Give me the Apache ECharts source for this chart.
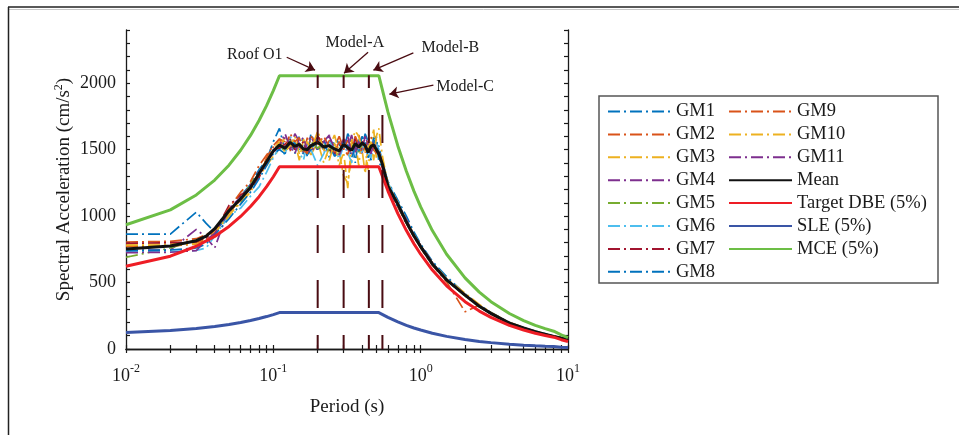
<!DOCTYPE html>
<html>
<head>
<meta charset="utf-8">
<script src="https://cdn.jsdelivr.net/npm/echarts@6/dist/echarts.min.js"></script>
<style>
html,body{margin:0;padding:0;background:#fff;}
#main{width:959px;height:435px;}
</style>
</head>
<body>
<div id="main"></div>
<script>
// periods (s) used for the ground motion spectra
var periods = [0.01,0.02,0.03,0.035,0.04,0.05,0.06,0.07,0.08,0.09,
	0.10,0.11,0.12,0.13,0.14,0.15,0.16,0.17,0.18,0.20,
	0.22,0.24,0.26,0.28,0.30,0.32,0.34,0.36,0.38,0.40,
	0.42,0.44,0.46,0.48,0.50,0.52,0.55,0.60,0.70,0.80,
	0.90,1.0,1.2,1.5,2.0,2.5,3.0,4.0,5.0,6.0,
	8.0,10];

var gm1 = [865,865,1030,945,880,1010,1150,1240,1350,1420,
	1560,1660,1490,1580,1470,1600,1560,1450,1620,1500,
	1580,1440,1600,1540,1490,1620,1560,1400,1590,1500,
	1620,1560,1420,1610,1480,1530,1400,1260,1120,1000,
	880,790,660,545,415,330,275,200,160,134,
	97,74];
var gm2 = [805,810,830,860,900,1030,1120,1240,1300,1440,
	1520,1580,1560,1490,1610,1530,1470,1590,1500,1620,
	1480,1570,1520,1600,1510,1460,1580,1500,1610,1530,
	1470,1590,1550,1500,1580,1450,1380,1210,1070,940,
	860,760,630,505,280,330,262,190,150,128,
	92,70];
var gm3 = [790,790,800,830,870,1010,1100,1180,1300,1380,
	1450,1500,1600,1520,1560,1420,1580,1510,1460,1560,
	1400,1520,1610,1480,1300,1250,1450,1560,1380,1600,
	1500,1350,1560,1650,1440,1500,1400,1240,1100,970,
	860,780,650,530,420,335,275,200,162,133,
	96,73];
var gm4 = [742,745,900,840,760,1060,1140,1200,1340,1400,
	1480,1520,1590,1500,1620,1560,1480,1540,1600,1490,
	1560,1610,1460,1500,1580,1520,1610,1480,1550,1470,
	1600,1540,1460,1560,1520,1480,1410,1230,1100,975,
	855,780,650,520,410,320,270,197,160,131,
	96,72];
var gm5 = [690,760,820,850,900,1050,1100,1250,1310,1400,
	1500,1540,1480,1570,1510,1550,1490,1520,1560,1510,
	1540,1490,1550,1470,1560,1500,1520,1560,1480,1540,
	1510,1490,1540,1500,1470,1460,1380,1220,1080,945,
	845,765,635,515,400,318,265,193,156,128,
	94,71];
var gm6 = [732,732,742,760,850,1000,1060,1150,1220,1330,
	1440,1520,1460,1600,1530,1480,1420,1540,1500,1380,
	1470,1560,1510,1430,1530,1480,1400,1570,1520,1480,
	1560,1500,1440,1520,1560,1500,1420,1250,1110,960,
	850,770,645,525,410,325,270,195,158,129,
	95,72];
var gm7 = [795,800,805,840,880,1080,1160,1200,1290,1420,
	1490,1510,1540,1580,1500,1520,1560,1480,1520,1600,
	1540,1500,1470,1520,1560,1500,1480,1590,1510,1560,
	1540,1480,1520,1500,1490,1460,1360,1210,1080,950,
	845,765,638,518,405,322,268,194,157,130,
	95,72];
var gm8 = [740,745,760,790,860,980,1090,1180,1280,1380,
	1470,1500,1470,1540,1550,1500,1470,1460,1500,1580,
	1500,1540,1450,1480,1560,1530,1440,1520,1490,1600,
	1560,1440,1500,1540,1600,1410,1350,1200,1070,960,
	850,775,645,525,410,320,265,185,157,130,
	95,72];
var gm9 = [770,775,790,820,890,1060,1180,1260,1380,1460,
	1530,1580,1500,1620,1560,1590,1500,1470,1600,1540,
	1600,1520,1480,1560,1500,1570,1520,1600,1540,1480,
	1520,1560,1600,1500,1470,1480,1420,1230,1090,950,
	850,770,640,520,410,325,270,196,158,130,
	95,72];
var gm10 = [780,780,790,810,880,1000,1120,1200,1330,1420,
	1500,1560,1480,1530,1600,1470,1520,1560,1490,1640,
	1500,1420,1560,1380,1480,1210,1560,1640,1600,1500,
	1320,1520,1560,1420,1600,1660,1450,1240,1100,960,
	850,770,645,525,410,325,272,196,160,132,
	97,74];
var gm11 = [725,728,740,820,870,1050,1120,1230,1310,1400,
	1500,1530,1620,1520,1470,1560,1590,1500,1480,1560,
	1520,1600,1510,1460,1540,1600,1470,1520,1560,1500,
	1600,1520,1470,1540,1500,1480,1390,1220,1090,955,
	850,770,640,520,405,322,268,195,158,130,
	95,72];
var mean = [752,775,815,850,905,1040,1130,1215,1320,1410,
	1490,1535,1510,1555,1525,1540,1505,1500,1530,1555,
	1520,1530,1505,1490,1540,1515,1495,1545,1520,1550,
	1530,1480,1525,1535,1500,1470,1390,1225,1090,955,
	850,770,640,520,405,322,268,195,158,130,
	95,72];

// design spectra
var codePeriods = [0.01,0.02,0.03,0.04,0.05,0.06,0.07,0.08,0.09,0.10,
	0.11,0.52,0.6,0.7,0.8,0.9,1.0,1.2,1.5,2,
	2.5,3,4,5,6,7,8,9,10];
var targetDBE = [623,698,773,847,922,997,1072,1146,1221,1296,
	1371,1371,1188,1019,891,792,713,594,475,356,
	285,238,178,143,119,102,89,70,57];
var sle = [125,140,155,169,184,199,214,229,244,259,
	274,274,238,204,178,158,143,119,95,71,
	57,48,36,29,24,20,18,14,11];
var mce = [935,1047,1159,1271,1383,1495,1607,1719,1831,1944,
	2056,2056,1782,1528,1337,1188,1069,891,713,535,
	428,356,267,214,178,153,134,106,86];

// fundamental periods of the models
var modelNames = ['Roof O1','Model-A','Model-B','Model-C'];
var modelPeriods = [0.2,0.3,0.445,0.55];
var modelTops = [2060,2060,2060,1950];

var yLabelValues = [0,500,1000,1500,2000];
var xLabelValues = [0.01,0.1,1,10];

var FONT = '"Liberation Serif","Times New Roman",serif';
var TXT = '#1a1a1a';
var MAROON = '#4a0c12';

function pairs(xs, ys){
	var out = [];
	for (var i = 0; i < xs.length; i++) {
		out.push([xs[i], ys[i]]);
	}
	return out;
}

var xTicks = [];
[0.01,0.1,1].forEach(function(d){
	for (var k = 1; k < 10; k++) { xTicks.push(+(k*d).toFixed(3)); }
});
xTicks.push(10);
var yTicks = [];
for (var v = 0; v <= 2400; v += 100) { yTicks.push(v); }

var gmColors = ['#0072BD','#D95319','#EDB120','#7E2F8E','#77AC30','#4DBEEE','#A2142F','#0072BD','#D95319','#EDB120','#7E2F8E'];
var gmData = [gm1,gm2,gm3,gm4,gm5,gm6,gm7,gm8,gm9,gm10,gm11];

var series = [];
for (var i = 0; i < gmData.length; i++) {
	series.push({
		name: 'GM' + (i+1), type: 'line', symbol: 'none', z: 2,
		data: pairs(periods, gmData[i]),
		itemStyle: {color: gmColors[i]},
		lineStyle: {color: gmColors[i], width: 1.7, type: [12,4,2,4]}
	});
}
function solid(name, xs, ys, color){
	return {
		name: name, type: 'line', symbol: 'none', z: 3,
		data: pairs(xs, ys),
		itemStyle: {color: color},
		lineStyle: {color: color, width: 3}
	};
}
series.push(solid('Mean', periods, mean, '#111111'));
series.push(solid('Target DBE (5%)', codePeriods, targetDBE, '#EE1D25'));
series.push(solid('SLE (5%)', codePeriods, sle, '#3A55A6'));
series.push(solid('MCE (5%)', codePeriods, mce, '#6CBE45'));

for (var j = 0; j < modelPeriods.length; j++) {
	series.push({
		name: modelNames[j], type: 'line', symbol: 'none', z: 5, silent: true,
		data: [[modelPeriods[j], 0], [modelPeriods[j], modelTops[j]]],
		lineStyle: {color: MAROON, width: 2, type: [28,27], dashOffset: 14}
	});
}

// arrows and their labels
series.push({
	name: 'notes', type: 'line', data: [], z: 6, silent: true,
	markLine: {
		silent: true, animation: false,
		symbol: ['none','arrow'], symbolSize: 9,
		label: {show: false},
		lineStyle: {color: MAROON, width: 1.3, type: 'solid'},
		data: [
			[{coord: [0.1233, 2195]}, {coord: [0.192, 2098]}],
			[{coord: [0.4395, 2233]}, {coord: [0.302, 2075]}],
			[{coord: [0.892, 2228]}, {coord: [0.4775, 2098]}],
			[{coord: [1.22, 1985]}, {coord: [0.613, 1917]}]
		]
	},
	markPoint: {
		silent: true, animation: false,
		symbol: 'circle', symbolSize: 0,
		label: {show: true, position: 'inside', formatter: '{b}', fontFamily: FONT, fontSize: 16, color: TXT},
		data: [
			{name: modelNames[0], coord: [0.0748, 2216]},
			{name: modelNames[1], coord: [0.3576, 2303]},
			{name: modelNames[2], coord: [1.591, 2263]},
			{name: modelNames[3], coord: [2.001, 1970]}
		]
	}
});

function legendCol(names, left){
	return {
		data: names, orient: 'vertical', left: left, top: 102, padding: 0,
		itemWidth: 63, itemHeight: 12, itemGap: 3.9, selectedMode: false,
		itemStyle: {opacity: 0},
		textStyle: {fontFamily: FONT, fontSize: 18.5, color: TXT}
	};
}

var supRich = {s: {fontFamily: FONT, fontSize: 12, color: TXT, padding: [0,0,14,0]}, b: {fontFamily: FONT, fontSize: 18, color: TXT}};

var axisLineStyle = {show: true, lineStyle: {color: '#1a1a1a', width: 1.3}};

var option = {
	animation: false,
	backgroundColor: '#fff',
	grid: {left: 126, right: 391, top: 30, bottom: 86},
	legend: [
		legendCol(['GM1','GM2','GM3','GM4','GM5','GM6','GM7','GM8'], 607),
		legendCol(['GM9','GM10','GM11','Mean','Target DBE (5%)','SLE (5%)','MCE (5%)'], 728)
	],
	xAxis: [{
		type: 'log', logBase: 10, min: 0.01, max: 10, position: 'bottom',
		name: 'Period (s)', nameLocation: 'middle', nameGap: 49,
		nameTextStyle: {fontFamily: FONT, fontSize: 19, color: TXT},
		axisLine: axisLineStyle,
		axisTick: {show: true, inside: true, length: 4, customValues: xTicks, lineStyle: {color: '#1a1a1a', width: 1.2}},
		axisLabel: {
			customValues: xLabelValues, margin: 14,
			formatter: function(v){ return '{b|10}{s|' + Math.round(Math.log(v)/Math.LN10) + '}'; },
			rich: supRich
		},
		splitLine: {show: false}
	}, {
		type: 'log', logBase: 10, min: 0.01, max: 10, position: 'top',
		axisLine: axisLineStyle,
		axisTick: {show: true, inside: true, length: 4, customValues: xTicks, lineStyle: {color: '#1a1a1a', width: 1.2}},
		axisLabel: {show: false},
		splitLine: {show: false}
	}],
	yAxis: [{
		type: 'value', min: 0, max: 2400, position: 'left',
		name: 'Spectral Acceleration (cm/s{s|2})', nameLocation: 'middle', nameGap: 51,
		nameTextStyle: {fontFamily: FONT, fontSize: 19, color: TXT, rich: {s: {fontFamily: FONT, fontSize: 12, color: TXT, padding: [0,0,10,0]}}},
		axisLine: axisLineStyle,
		axisTick: {show: true, inside: true, length: 4, customValues: yTicks, lineStyle: {color: '#1a1a1a', width: 1.2}},
		axisLabel: {customValues: yLabelValues, margin: 10, fontFamily: FONT, fontSize: 18, color: TXT,
			formatter: function(v){ return String(v); }},
		splitLine: {show: false}
	}, {
		type: 'value', min: 0, max: 2400, position: 'right',
		axisLine: axisLineStyle,
		axisTick: {show: true, inside: true, length: 4, customValues: yTicks, lineStyle: {color: '#1a1a1a', width: 1.2}},
		axisLabel: {show: false},
		splitLine: {show: false}
	}],
	graphic: [
		{type: 'line', shape: {x1: 8, y1: 7, x2: 959, y2: 7}, style: {stroke: '#222', lineWidth: 1.5}},
		{type: 'line', shape: {x1: 8, y1: 9.5, x2: 959, y2: 9.5}, style: {stroke: '#c8c8c8', lineWidth: 1}},
		{type: 'line', shape: {x1: 8.5, y1: 7, x2: 8.5, y2: 435}, style: {stroke: '#222', lineWidth: 1.5}},
		{type: 'rect', shape: {x: 599, y: 96, width: 339, height: 187}, style: {fill: null, stroke: '#555', lineWidth: 1.5}, z: -1}
	],
	series: series
};

var myChart = echarts.init(document.getElementById('main'));
myChart.setOption(option);
</script>
</body>
</html>
